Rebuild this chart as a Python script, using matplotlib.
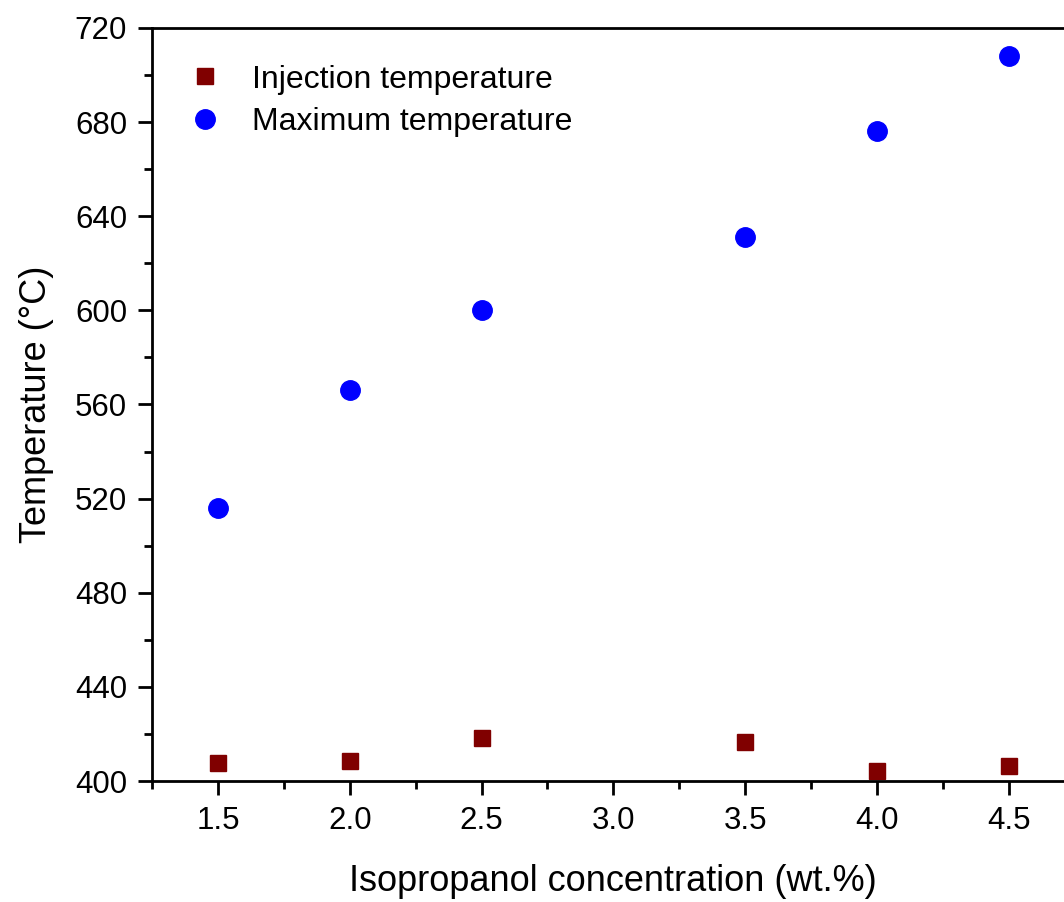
import matplotlib.pyplot as plt
from matplotlib.ticker import MultipleLocator

plt.rcParams['font.family'] = ['Liberation Sans', 'DejaVu Sans']

# Data
concentration = [1.5, 2.0, 2.5, 3.5, 4.0, 4.5]
injection_temp = [407.5, 408.5, 418.3, 416.6, 404.2, 406.4]
maximum_temp = [516, 566, 600, 631, 676, 708]

fig = plt.figure(figsize=(10.64, 9.02), dpi=100)
ax = fig.add_axes([0.1429, 0.1341, 0.867, 0.835])

ax.plot(concentration, injection_temp, 's', color='#800000', markersize=12,
        linestyle='none', label='Injection temperature')
ax.plot(concentration, maximum_temp, 'o', color='#0000ff', markersize=14,
        linestyle='none', label='Maximum temperature')

ax.set_xlim(1.25, 4.75)
ax.set_ylim(400, 720)
ax.xaxis.set_major_locator(MultipleLocator(0.5))
ax.xaxis.set_minor_locator(MultipleLocator(0.25))
ax.yaxis.set_major_locator(MultipleLocator(40))
ax.yaxis.set_minor_locator(MultipleLocator(20))
ax.set_xticks([1.5, 2.0, 2.5, 3.0, 3.5, 4.0, 4.5])

for s in ax.spines.values():
    s.set_linewidth(2)
ax.tick_params(which='major', direction='out', length=10, width=2, labelsize=22.5, pad=8)
ax.tick_params(which='minor', direction='out', length=5.5, width=2)

ax.set_xlabel('Isopropanol concentration (wt.%)', fontsize=26, labelpad=20)
ax.set_ylabel('Temperature (°C)', fontsize=26, labelpad=15)

ax.legend(loc='upper left', frameon=False, fontsize=23, handlelength=1.0,
          handletextpad=0.97, borderaxespad=0.75, labelspacing=0.4)

plt.savefig('out.png', dpi=100)
plt.close()
